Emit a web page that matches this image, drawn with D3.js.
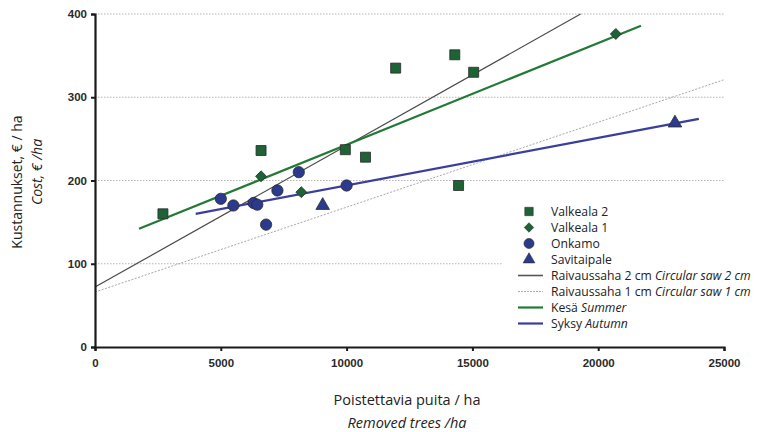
<!DOCTYPE html>
<html>
<head>
<meta charset="utf-8">
<script src="https://cdn.jsdelivr.net/npm/d3@7"></script>
<style>
  body { margin: 0; background: #fff; }
  svg { display: block; }
</style>
</head>
<body>
<svg id="chart" width="766" height="432"></svg>
<script>
// Valkeala 2 (squares)
const valkeala2 = [[2700, 160], [6600, 236], [9950, 237], [10750, 228], [11950, 335], [14300, 351], [15050, 330], [14450, 194]]
// Valkeala 1 (diamonds)
const valkeala1 = [[6600, 205], [8200, 186], [20700, 376]]
// Onkamo (circles)
const onkamo = [[5000, 178], [5500, 170], [6300, 173], [6450, 171], [6800, 147], [7250, 188], [8100, 210], [10000, 194]]
// Savitaipale (triangles)
const savitaipale = [[9050, 170], [23050, 269]]

// regression lines, end points
const saw2 = [[0, 72], [19300, 400]]
const saw1 = [[0, 66], [25000, 321]]
const summer = [[1750, 142], [21700, 386]]
const autumn = [[4000, 160], [24000, 274]]

const xTicks = [0, 5000, 10000, 15000, 20000, 25000]
const yTicks = [0, 100, 200, 300, 400]

const GREEN = "#1d6335", GREEN_LINE = "#227a36", BLUE = "#2c3a8e", BLUE_LINE = "#3a3e9c"

const svg = d3.select("#chart")
const x = d3.scaleLinear().domain([0, 25000]).range([95, 724])
const y = d3.scaleLinear().domain([0, 400]).range([347, 14])

// gridlines
svg.append("g")
    .selectAll("line")
    .data(yTicks.filter(d => d > 0))
    .enter()
    .append("line")
    .attr("x1", x(0))
    .attr("x2", x(25000))
    .attr("y1", d => y(d))
    .attr("y2", d => y(d))
    .attr("stroke", "#b5b5b5")
    .attr("stroke-width", 1)
    .attr("stroke-dasharray", "1.5,1.5")

const line = d3.line().x(d => x(d[0])).y(d => y(d[1]))

svg.append("path").attr("d", line(saw1)).attr("fill", "none")
    .attr("stroke", "#a8a8a8").attr("stroke-width", 1).attr("stroke-dasharray", "2,1.5")
svg.append("path").attr("d", line(saw2)).attr("fill", "none")
    .attr("stroke", "#4a4a4a").attr("stroke-width", 1.2)
svg.append("path").attr("d", line(summer)).attr("fill", "none")
    .attr("stroke", GREEN_LINE).attr("stroke-width", 2.2)
svg.append("path").attr("d", line(autumn)).attr("fill", "none")
    .attr("stroke", BLUE_LINE).attr("stroke-width", 2.2)

// square turned on its corner, wider than d3's diamond
const symbolRhomb = {
    draw(context, size) {
        const r = Math.sqrt(size / 2)
        context.moveTo(0, -r)
        context.lineTo(r, 0)
        context.lineTo(0, r)
        context.lineTo(-r, 0)
        context.closePath()
    }
}

function drawPoints(data, type, size, fill) {
    svg.append("g")
        .selectAll("path")
        .data(data)
        .enter()
        .append("path")
        .attr("d", d3.symbol().type(type).size(size))
        .attr("transform", d => "translate(" + x(d[0]) + "," + y(d[1]) + ")")
        .attr("fill", fill)
        .attr("stroke", "#2a2a2a")
        .attr("stroke-width", 0.8)
}
drawPoints(valkeala2, d3.symbolSquare, 100, GREEN)
drawPoints(valkeala1, symbolRhomb, 60, GREEN)
drawPoints(onkamo, d3.symbolCircle, 100, BLUE)
drawPoints(savitaipale, d3.symbolTriangle, 80, BLUE)

// axes
const xAxis = svg.append("g")
    .attr("transform", "translate(0," + y(0) + ")")
    .call(d3.axisBottom(x).tickValues(xTicks).tickSize(4).tickPadding(8).tickFormat(d3.format("d")))
const yAxis = svg.append("g")
    .attr("transform", "translate(" + x(0) + ",0)")
    .call(d3.axisLeft(y).tickValues(yTicks).tickSize(4).tickPadding(4))

for (const ax of [xAxis, yAxis]) {
    ax.select(".domain").attr("stroke", "#1a1a1a").attr("stroke-width", 2.2)
    ax.selectAll(".tick line").attr("stroke", "#1a1a1a").attr("stroke-width", 2)
    ax.selectAll(".tick text")
        .attr("font-family", "Liberation Sans, Arial, sans-serif")
        .attr("font-weight", "bold")
        .attr("font-size", "11.5px")
        .attr("fill", "#2a2a2a")
}

// axis titles
const titleFont = "Open Sans, sans-serif"
svg.append("text").attr("transform", "translate(22,182) rotate(-90)")
    .attr("text-anchor", "middle").attr("font-family", titleFont).attr("font-size", "14px")
    .attr("fill", "#222").text("Kustannukset, € / ha")
svg.append("text").attr("transform", "translate(42,172) rotate(-90)")
    .attr("text-anchor", "middle").attr("font-family", titleFont).attr("font-size", "14px")
    .attr("font-style", "italic").attr("fill", "#222").text("Cost, € /ha")
svg.append("text").attr("x", 407).attr("y", 405)
    .attr("text-anchor", "middle").attr("font-family", titleFont).attr("font-size", "14.5px")
    .attr("fill", "#222").text("Poistettavia puita / ha")
svg.append("text").attr("x", 407).attr("y", 428)
    .attr("text-anchor", "middle").attr("font-family", titleFont).attr("font-size", "14.5px")
    .attr("font-style", "italic").attr("fill", "#222").text("Removed trees /ha")

// legend
const legendItems = [
    { kind: "symbol", type: d3.symbolSquare, size: 70, fill: GREEN, label: "Valkeala 2", it: "" },
    { kind: "symbol", type: symbolRhomb, size: 45, fill: GREEN, label: "Valkeala 1", it: "" },
    { kind: "symbol", type: d3.symbolCircle, size: 80, fill: BLUE, label: "Onkamo", it: "" },
    { kind: "symbol", type: d3.symbolTriangle, size: 60, fill: BLUE, label: "Savitaipale", it: "" },
    { kind: "line", stroke: "#555", width: 1.6, dash: null, label: "Raivaussaha 2 cm ", it: "Circular saw 2 cm" },
    { kind: "line", stroke: "#aaa", width: 1, dash: "2,1", label: "Raivaussaha 1 cm ", it: "Circular saw 1 cm" },
    { kind: "line", stroke: GREEN_LINE, width: 2.2, dash: null, label: "Kesä ", it: "Summer" },
    { kind: "line", stroke: BLUE_LINE, width: 2.2, dash: null, label: "Syksy ", it: "Autumn" }
]
const legend = svg.append("g")
legend.append("rect").attr("x", 503).attr("y", 198).attr("width", 240).attr("height", 136).attr("fill", "#fff")
legendItems.forEach((d, i) => {
    const cy = 211.5 + i * 16
    if (d.kind === "symbol") {
        legend.append("path")
            .attr("d", d3.symbol().type(d.type).size(d.size))
            .attr("transform", "translate(529," + cy + ")")
            .attr("fill", d.fill).attr("stroke", "#2a2a2a").attr("stroke-width", 0.6)
    } else {
        legend.append("line").attr("x1", 518).attr("x2", 543).attr("y1", cy).attr("y2", cy)
            .attr("stroke", d.stroke).attr("stroke-width", d.width)
            .attr("stroke-dasharray", d.dash)
    }
    const t = legend.append("text").attr("x", 551).attr("y", cy + 4.5)
        .attr("font-family", titleFont).attr("font-size", "12.2px").attr("fill", "#222")
    t.append("tspan").text(d.label)
    if (d.it) t.append("tspan").attr("font-style", "italic").text(d.it)
})
</script>
</body>
</html>
